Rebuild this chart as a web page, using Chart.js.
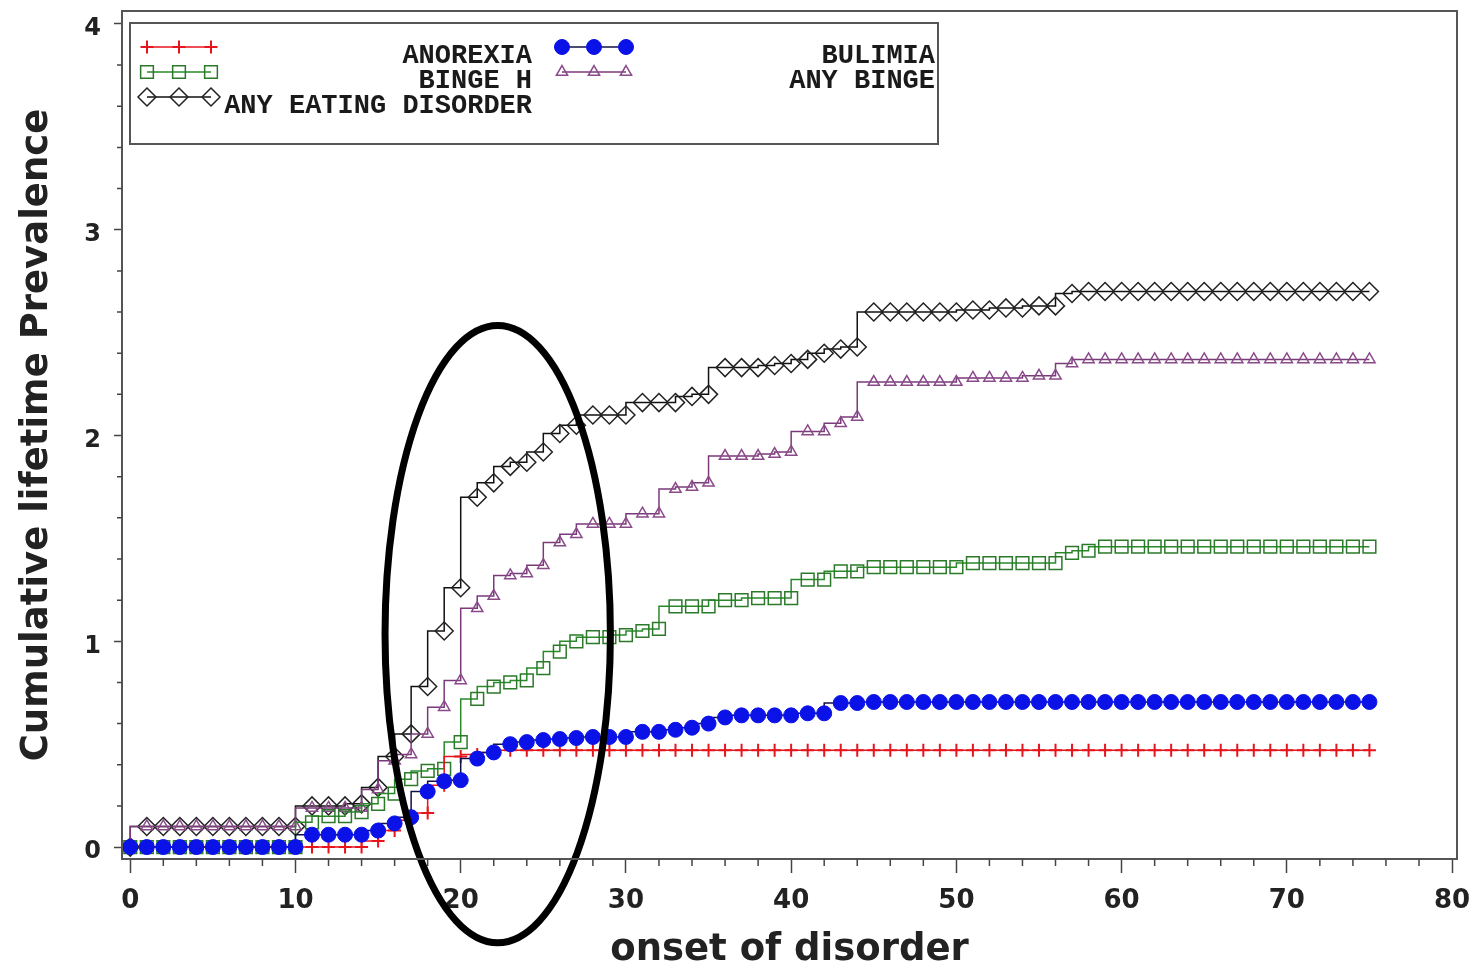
<!DOCTYPE html>
<html lang="en">
<head>
    <meta charset="UTF-8">
    <title>Cumulative lifetime Prevalence by onset of disorder</title>
    <script src="https://cdn.jsdelivr.net/npm/chart.js"></script>
    <style>
        html, body {
            margin: 0;
            padding: 0;
            background: #fff;
        }

        .chart-container {
            position: relative;
            width: 1478px;
            height: 968px;
        }
    </style>
</head>
<body>
    <div class="chart-container">
        <canvas id="prevalenceChart"></canvas>
    </div>

    <script>
        // Age at onset (x values)
        const ages = [0, 1, 2, 3, 4, 5, 6, 7, 8, 9, 10, 11, 12, 13, 14, 15, 16, 17, 18, 19,
            20, 21, 22, 23, 24, 25, 26, 27, 28, 29, 30, 31, 32, 33, 34, 35, 36, 37, 38, 39,
            40, 41, 42, 43, 44, 45, 46, 47, 48, 49, 50, 51, 52, 53, 54, 55, 56, 57, 58, 59,
            60, 61, 62, 63, 64, 65, 66, 67, 68, 69, 70, 71, 72, 73, 74, 75];

        // Cumulative lifetime prevalence
        const anorexia = [0, 0, 0, 0, 0, 0, 0, 0, 0, 0, 0, 0, 0, 0, 0, 0.03, 0.08, 0.13, 0.165, 0.30,
            0.44, 0.45, 0.46, 0.47, 0.47, 0.47, 0.47, 0.47, 0.47, 0.47, 0.47, 0.47, 0.47, 0.47, 0.47, 0.47, 0.47, 0.47, 0.47, 0.47,
            0.47, 0.47, 0.47, 0.47, 0.47, 0.47, 0.47, 0.47, 0.47, 0.47, 0.47, 0.47, 0.47, 0.47, 0.47, 0.47, 0.47, 0.47, 0.47, 0.47,
            0.47, 0.47, 0.47, 0.47, 0.47, 0.47, 0.47, 0.47, 0.47, 0.47, 0.47, 0.47, 0.47, 0.47, 0.47, 0.47];

        const bulimia = [0, 0, 0, 0, 0, 0, 0, 0, 0, 0, 0, 0.06, 0.06, 0.06, 0.06, 0.08, 0.115, 0.145, 0.27, 0.32,
            0.325, 0.43, 0.46, 0.50, 0.51, 0.52, 0.525, 0.53, 0.535, 0.535, 0.535, 0.56, 0.56, 0.57, 0.58, 0.60, 0.63, 0.64, 0.64, 0.64,
            0.64, 0.65, 0.65, 0.70, 0.70, 0.705, 0.705, 0.705, 0.705, 0.705, 0.705, 0.705, 0.705, 0.705, 0.705, 0.705, 0.705, 0.705, 0.705, 0.705,
            0.705, 0.705, 0.705, 0.705, 0.705, 0.705, 0.705, 0.705, 0.705, 0.705, 0.705, 0.705, 0.705, 0.705, 0.705, 0.705];

        const bingeH = [0, 0, 0, 0, 0, 0, 0, 0, 0, 0, 0, 0.12, 0.15, 0.15, 0.17, 0.21, 0.26, 0.33, 0.37, 0.38,
            0.51, 0.72, 0.78, 0.80, 0.81, 0.87, 0.95, 1.00, 1.02, 1.02, 1.03, 1.05, 1.06, 1.17, 1.17, 1.17, 1.20, 1.20, 1.21, 1.21,
            1.21, 1.30, 1.30, 1.34, 1.34, 1.36, 1.36, 1.36, 1.36, 1.36, 1.36, 1.38, 1.38, 1.38, 1.38, 1.38, 1.38, 1.43, 1.44, 1.46,
            1.46, 1.46, 1.46, 1.46, 1.46, 1.46, 1.46, 1.46, 1.46, 1.46, 1.46, 1.46, 1.46, 1.46, 1.46, 1.46];

        const anyBinge = [0, 0.1, 0.1, 0.1, 0.1, 0.1, 0.1, 0.1, 0.1, 0.1, 0.1, 0.19, 0.19, 0.19, 0.19, 0.28, 0.42, 0.45, 0.55, 0.68,
            0.81, 1.16, 1.22, 1.32, 1.33, 1.37, 1.48, 1.52, 1.57, 1.57, 1.57, 1.62, 1.62, 1.74, 1.75, 1.77, 1.90, 1.90, 1.90, 1.91,
            1.92, 2.02, 2.02, 2.06, 2.09, 2.26, 2.26, 2.26, 2.26, 2.26, 2.26, 2.28, 2.28, 2.28, 2.28, 2.29, 2.29, 2.35, 2.37, 2.37,
            2.37, 2.37, 2.37, 2.37, 2.37, 2.37, 2.37, 2.37, 2.37, 2.37, 2.37, 2.37, 2.37, 2.37, 2.37, 2.37];

        const anyEatingDisorder = [0, 0.1, 0.1, 0.1, 0.1, 0.1, 0.1, 0.1, 0.1, 0.1, 0.1, 0.2, 0.2, 0.2, 0.21, 0.29, 0.44, 0.55, 0.78, 1.05,
            1.26, 1.70, 1.77, 1.85, 1.87, 1.92, 2.01, 2.05, 2.10, 2.10, 2.10, 2.16, 2.16, 2.16, 2.19, 2.20, 2.33, 2.33, 2.33, 2.34,
            2.35, 2.37, 2.40, 2.42, 2.43, 2.60, 2.60, 2.60, 2.60, 2.60, 2.60, 2.61, 2.61, 2.62, 2.62, 2.63, 2.63, 2.69, 2.70, 2.70,
            2.70, 2.70, 2.70, 2.70, 2.70, 2.70, 2.70, 2.70, 2.70, 2.70, 2.70, 2.70, 2.70, 2.70, 2.70, 2.70];

        // Axis tick values
        const xTickValues = [0, 10, 20, 30, 40, 50, 60, 70, 80];
        const yTickValues = [0, 1, 2, 3, 4];

        // Hand-drawn ellipse around the steep part (data units)
        const highlight = { cx: 22.24, cy: 1.035, rx: 6.82, ry: 1.5 };

        const tickFont = '"DejaVu Sans", Verdana, sans-serif';
        const legendFont = 'bold 27px "Liberation Mono", "Courier New", monospace';

        function toPoints(values) {
            return ages.map((age, i) => ({ x: age, y: values[i] }));
        }

        const hollow = 'rgba(255,255,255,0)';

        const datasets = [
            {
                label: 'ANOREXIA',
                data: toPoints(anorexia),
                borderColor: '#e8141c',
                pointBorderColor: '#e8141c',
                pointBackgroundColor: '#e8141c',
                pointStyle: 'cross',
                pointRadius: 6.5,
                pointBorderWidth: 2,
                order: 1
            },
            {
                label: 'BULIMIA',
                data: toPoints(bulimia),
                borderColor: '#10104a',
                pointBorderColor: '#0a12e8',
                pointBackgroundColor: '#0a12e8',
                pointStyle: 'circle',
                pointRadius: 7.5,
                pointBorderWidth: 1,
                order: 0
            },
            {
                label: 'BINGE H',
                data: toPoints(bingeH),
                borderColor: '#2a8a2a',
                pointBorderColor: '#2a7a2a',
                pointBackgroundColor: hollow,
                pointStyle: 'rect',
                pointRadius: 9,
                pointBorderWidth: 1.5,
                order: 2
            },
            {
                label: 'ANY BINGE',
                data: toPoints(anyBinge),
                borderColor: '#7a3a7a',
                pointBorderColor: '#8a4a8a',
                pointBackgroundColor: hollow,
                pointStyle: 'triangle',
                pointRadius: 6.5,
                pointBorderWidth: 1.5,
                order: 3
            },
            {
                label: 'ANY EATING DISORDER',
                data: toPoints(anyEatingDisorder),
                borderColor: '#111',
                pointBorderColor: '#222',
                pointBackgroundColor: hollow,
                pointStyle: 'rectRot',
                pointRadius: 9,
                pointBorderWidth: 1.5,
                order: 4
            }
        ];

        datasets.forEach(ds => {
            ds.stepped = 'after';
            ds.borderWidth = 1.5;
            ds.fill = false;
        });

        // Frame, minor ticks
        const framePlugin = {
            id: 'frame',
            afterDraw(chart) {
                const { ctx, chartArea: a, scales: { x, y } } = chart;
                ctx.save();
                ctx.strokeStyle = '#555';
                ctx.lineWidth = 2;
                ctx.strokeRect(a.left, a.top, a.right - a.left, a.bottom - a.top);

                ctx.strokeStyle = '#444';
                ctx.lineWidth = 1.5;
                ctx.beginPath();
                for (let v = 2; v < 80; v += 2) {
                    if (v % 10 === 0) continue;
                    const px = x.getPixelForValue(v);
                    ctx.moveTo(px, a.bottom);
                    ctx.lineTo(px, a.bottom + 7);
                }
                for (let k = 1; k < 20; k++) {
                    if (k % 5 === 0) continue;
                    const py = y.getPixelForValue(k * 0.2);
                    ctx.moveTo(a.left, py);
                    ctx.lineTo(a.left - 5, py);
                }
                ctx.stroke();
                ctx.restore();
            }
        };

        // Ellipse annotation
        const ellipsePlugin = {
            id: 'ellipseNote',
            afterDatasetsDraw(chart) {
                const { ctx, scales: { x, y } } = chart;
                const cx = x.getPixelForValue(highlight.cx);
                const cy = y.getPixelForValue(highlight.cy);
                const rx = x.getPixelForValue(highlight.cx + highlight.rx) - cx;
                const ry = cy - y.getPixelForValue(highlight.cy + highlight.ry);
                ctx.save();
                ctx.strokeStyle = '#000';
                ctx.lineWidth = 7;
                ctx.beginPath();
                ctx.ellipse(cx, cy, rx, ry, 0, 0, Math.PI * 2);
                ctx.stroke();
                ctx.restore();
            }
        };

        // SAS-style legend box inside the plot
        const legendSlots = [
            { col: 0, row: 0 },
            { col: 1, row: 0 },
            { col: 0, row: 1 },
            { col: 1, row: 1 },
            { col: 0, row: 2 }
        ];

        const boxLegendPlugin = {
            id: 'boxLegend',
            afterDraw(chart) {
                const { ctx, chartArea: a } = chart;
                const left = a.left + 8;
                const top = a.top + 12;
                ctx.save();
                ctx.strokeStyle = '#555';
                ctx.lineWidth = 2;
                ctx.strokeRect(left, top, 808, 121);

                chart.data.datasets.forEach((ds, i) => {
                    const slot = legendSlots[i];
                    const sx = left + (slot.col === 0 ? 17 : 432);
                    const sy = top + 24 + slot.row * 25;

                    ctx.strokeStyle = ds.borderColor;
                    ctx.lineWidth = 1.5;
                    ctx.beginPath();
                    ctx.moveTo(sx, sy);
                    ctx.lineTo(sx + 64, sy);
                    ctx.stroke();

                    for (let m = 0; m < 3; m++) {
                        ctx.fillStyle = ds.pointBackgroundColor;
                        ctx.strokeStyle = ds.pointBorderColor;
                        ctx.lineWidth = ds.pointBorderWidth;
                        Chart.helpers.drawPoint(ctx, {
                            pointStyle: ds.pointStyle,
                            radius: ds.pointRadius,
                            rotation: 0,
                            borderWidth: ds.pointBorderWidth
                        }, sx + m * 32, sy);
                    }

                    ctx.fillStyle = '#1a1a1a';
                    ctx.font = legendFont;
                    ctx.textAlign = 'right';
                    ctx.textBaseline = 'alphabetic';
                    const tx = left + (slot.col === 0 ? 402 : 805);
                    ctx.fillText(ds.label, tx, sy + 16);
                });
                ctx.restore();
            }
        };

        function initChart() {
            const ctx = document.getElementById('prevalenceChart').getContext('2d');

            new Chart(ctx, {
                type: 'line',
                data: { datasets: datasets },
                options: {
                    responsive: true,
                    maintainAspectRatio: false,
                    animation: false,
                    layout: {
                        padding: { top: 11, right: 21, left: 0, bottom: 0 }
                    },
                    plugins: {
                        legend: { display: false },
                        tooltip: { enabled: false }
                    },
                    scales: {
                        x: {
                            type: 'linear',
                            min: -0.5,
                            max: 80.3,
                            afterFit: scale => {
                                scale.height = 109;
                                scale.paddingLeft = 0;
                                scale.paddingRight = 0;
                            },
                            afterBuildTicks: scale => {
                                scale.ticks = xTickValues.map(v => ({ value: v }));
                            },
                            ticks: {
                                stepSize: 10,
                                includeBounds: false,
                                color: '#222',
                                padding: 13,
                                maxRotation: 0,
                                font: { family: tickFont, size: 26, weight: 'bold' }
                            },
                            grid: {
                                drawOnChartArea: false,
                                tickLength: 14,
                                tickWidth: 1.5,
                                tickColor: '#444'
                            },
                            border: { color: '#444', width: 2 },
                            title: {
                                display: true,
                                text: 'onset of disorder',
                                color: '#222',
                                padding: { top: 0, bottom: -5 },
                                font: { family: tickFont, size: 37, weight: 'bold' }
                            }
                        },
                        y: {
                            type: 'linear',
                            min: -0.058,
                            max: 4.063,
                            afterFit: scale => {
                                scale.width = 122;
                                scale.paddingTop = 0;
                                scale.paddingBottom = 0;
                            },
                            afterBuildTicks: scale => {
                                scale.ticks = yTickValues.map(v => ({ value: v }));
                            },
                            ticks: {
                                stepSize: 1,
                                includeBounds: false,
                                color: '#222',
                                padding: 13,
                                labelOffset: 5,
                                font: { family: tickFont, size: 24, weight: 'bold' }
                            },
                            grid: {
                                drawOnChartArea: false,
                                tickLength: 8,
                                tickWidth: 1.5,
                                tickColor: '#444'
                            },
                            border: { color: '#444', width: 2 },
                            title: {
                                display: true,
                                text: 'Cumulative lifetime Prevalence',
                                color: '#222',
                                padding: { top: 15, bottom: 0 },
                                font: { family: tickFont, size: 37, weight: 'bold' }
                            }
                        }
                    }
                },
                plugins: [framePlugin, ellipsePlugin, boxLegendPlugin]
            });
        }

        document.addEventListener('DOMContentLoaded', initChart);
    </script>
</body>
</html>
